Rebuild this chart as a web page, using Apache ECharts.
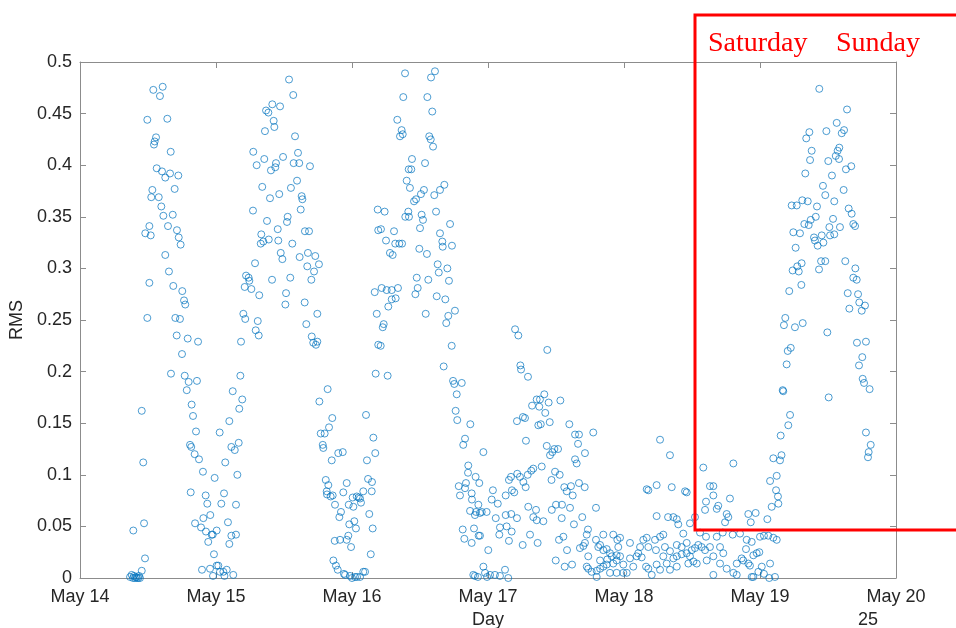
<!DOCTYPE html>
<html><head><meta charset="utf-8">
<script src="https://cdn.jsdelivr.net/npm/echarts@6/dist/echarts.min.js"></script>
<style>html,body{margin:0;padding:0;background:#fff}#c{width:956px;height:628px}</style>
</head><body><div id="c"></div><script>
// x values: days elapsed since May 14 00:00 ; y values: RMS
const xTickLabels = ['May 14','May 15','May 16','May 17','May 18','May 19','May 20'];
const yTicks = [0,0.05,0.1,0.15,0.2,0.25,0.3,0.35,0.4,0.45,0.5];

const dayMay14 = [[0.368,0.001],[0.380,0.003],[0.390,0.000],[0.392,0.046],[0.397,0.002],[0.404,0.000],[0.412,0.001],[0.419,0.000],[0.429,0.000],[0.434,0.002],[0.441,0.000],[0.454,0.007],[0.454,0.162],[0.465,0.112],[0.471,0.053],[0.478,0.019],[0.480,0.334],[0.495,0.444],[0.495,0.252],[0.510,0.341],[0.510,0.286],[0.520,0.332],[0.524,0.369],[0.532,0.376],[0.539,0.473],[0.544,0.420],[0.549,0.423],[0.559,0.427],[0.564,0.397],[0.579,0.369],[0.588,0.467],[0.598,0.360],[0.603,0.394],[0.608,0.476],[0.613,0.351],[0.627,0.388],[0.627,0.313],[0.642,0.445],[0.647,0.341],[0.654,0.297],[0.662,0.392],[0.667,0.413],[0.669,0.198],[0.682,0.352],[0.686,0.283],[0.696,0.377],[0.701,0.252],[0.711,0.235],[0.713,0.337],[0.723,0.390],[0.726,0.330],[0.735,0.251],[0.740,0.323],[0.750,0.217],[0.752,0.278],[0.765,0.269],[0.770,0.196],[0.774,0.265],[0.785,0.182],[0.792,0.232],[0.799,0.190],[0.809,0.129],[0.814,0.083],[0.818,0.127],[0.821,0.168],[0.831,0.157],[0.843,0.120],[0.846,0.053],[0.853,0.142],[0.860,0.191],[0.868,0.229],[0.875,0.115],[0.890,0.049],[0.897,0.008],[0.904,0.103],[0.907,0.058],[0.924,0.080],[0.926,0.045],[0.936,0.072],[0.943,0.035],[0.956,0.009],[0.958,0.061],[0.968,0.042],[0.976,0.042],[0.978,0.002],[0.985,0.023],[0.990,0.097]];

const dayMay15 = [[1.005,0.046],[1.005,0.012],[1.017,0.012],[1.027,0.141],[1.029,0.006],[1.039,0.072],[1.054,0.006],[1.059,0.082],[1.062,0.002],[1.068,0.112],[1.079,0.008],[1.088,0.054],[1.098,0.152],[1.098,0.033],[1.113,0.127],[1.113,0.041],[1.123,0.181],[1.127,0.003],[1.138,0.124],[1.147,0.071],[1.147,0.042],[1.157,0.100],[1.167,0.131],[1.171,0.164],[1.179,0.196],[1.184,0.229],[1.193,0.173],[1.201,0.256],[1.211,0.282],[1.215,0.251],[1.221,0.293],[1.240,0.291],[1.245,0.288],[1.260,0.280],[1.272,0.356],[1.274,0.413],[1.287,0.305],[1.292,0.240],[1.299,0.400],[1.307,0.249],[1.314,0.235],[1.318,0.274],[1.329,0.324],[1.333,0.333],[1.340,0.379],[1.348,0.326],[1.355,0.406],[1.360,0.433],[1.368,0.453],[1.375,0.346],[1.385,0.451],[1.388,0.328],[1.397,0.368],[1.404,0.395],[1.412,0.289],[1.414,0.459],[1.424,0.443],[1.429,0.437],[1.436,0.398],[1.441,0.402],[1.454,0.338],[1.458,0.327],[1.465,0.372],[1.471,0.457],[1.476,0.315],[1.488,0.309],[1.493,0.408],[1.510,0.265],[1.515,0.276],[1.522,0.345],[1.527,0.350],[1.537,0.483],[1.546,0.291],[1.551,0.378],[1.561,0.324],[1.568,0.468],[1.571,0.402],[1.581,0.428],[1.596,0.385],[1.603,0.412],[1.612,0.402],[1.615,0.311],[1.623,0.357],[1.630,0.370],[1.635,0.367],[1.652,0.267],[1.654,0.336],[1.664,0.246],[1.671,0.302],[1.676,0.315],[1.684,0.336],[1.691,0.399],[1.701,0.289],[1.704,0.234],[1.715,0.228],[1.721,0.297],[1.730,0.312],[1.735,0.226],[1.745,0.229],[1.745,0.256],[1.757,0.304],[1.760,0.171],[1.770,0.140],[1.785,0.129],[1.789,0.126],[1.799,0.140],[1.807,0.095],[1.814,0.084],[1.816,0.081],[1.821,0.183],[1.826,0.090],[1.831,0.146],[1.843,0.079],[1.851,0.114],[1.855,0.155],[1.858,0.080],[1.863,0.017],[1.873,0.036],[1.875,0.071],[1.882,0.012],[1.895,0.008],[1.899,0.121],[1.907,0.059],[1.912,0.037],[1.919,0.064],[1.932,0.122],[1.936,0.083],[1.941,0.004],[1.949,0.003],[1.961,0.037],[1.961,0.092],[1.973,0.041],[1.976,0.071],[1.980,0.052],[1.985,0.002],[1.993,0.030]];

const dayMay16 = [[2.000,0.000],[2.005,0.078],[2.010,0.069],[2.017,0.055],[2.022,0.001],[2.029,0.048],[2.035,0.079],[2.037,0.001],[2.049,0.078],[2.059,0.001],[2.059,0.077],[2.066,0.073],[2.083,0.084],[2.083,0.006],[2.096,0.006],[2.103,0.158],[2.110,0.114],[2.118,0.096],[2.127,0.062],[2.138,0.023],[2.145,0.084],[2.147,0.093],[2.152,0.048],[2.157,0.136],[2.167,0.277],[2.171,0.121],[2.174,0.198],[2.182,0.256],[2.189,0.357],[2.193,0.337],[2.193,0.226],[2.211,0.225],[2.213,0.338],[2.218,0.281],[2.226,0.243],[2.233,0.246],[2.240,0.355],[2.250,0.327],[2.255,0.279],[2.262,0.196],[2.267,0.263],[2.279,0.315],[2.292,0.279],[2.292,0.270],[2.299,0.313],[2.309,0.336],[2.318,0.324],[2.321,0.271],[2.333,0.444],[2.338,0.281],[2.348,0.324],[2.353,0.428],[2.365,0.434],[2.368,0.324],[2.373,0.430],[2.377,0.466],[2.390,0.489],[2.392,0.350],[2.402,0.385],[2.414,0.355],[2.417,0.396],[2.419,0.350],[2.426,0.378],[2.436,0.396],[2.441,0.406],[2.456,0.365],[2.466,0.275],[2.471,0.367],[2.476,0.291],[2.483,0.281],[2.495,0.319],[2.500,0.339],[2.507,0.372],[2.512,0.352],[2.522,0.347],[2.529,0.376],[2.537,0.402],[2.542,0.256],[2.551,0.314],[2.554,0.466],[2.561,0.289],[2.568,0.428],[2.579,0.425],[2.581,0.485],[2.590,0.452],[2.596,0.418],[2.605,0.371],[2.610,0.491],[2.618,0.355],[2.623,0.273],[2.630,0.304],[2.638,0.296],[2.647,0.376],[2.647,0.334],[2.664,0.326],[2.667,0.321],[2.674,0.205],[2.679,0.381],[2.686,0.270],[2.693,0.247],[2.701,0.300],[2.708,0.254],[2.713,0.288],[2.721,0.343],[2.733,0.225],[2.735,0.322],[2.743,0.191],[2.752,0.188],[2.757,0.259],[2.762,0.162],[2.770,0.178],[2.774,0.153],[2.785,0.089],[2.794,0.080],[2.807,0.189],[2.814,0.047],[2.818,0.129],[2.826,0.038],[2.831,0.135],[2.831,0.087],[2.838,0.092],[2.853,0.102],[2.855,0.109],[2.868,0.065],[2.870,0.149],[2.880,0.082],[2.880,0.034],[2.882,0.076],[2.892,0.003],[2.897,0.048],[2.904,0.061],[2.904,0.002],[2.909,0.098],[2.912,0.064],[2.926,0.001],[2.929,0.071],[2.931,0.041],[2.936,0.092],[2.941,0.063],[2.941,0.041],[2.954,0.064],[2.966,0.122],[2.966,0.011],[2.978,0.005],[2.990,0.064],[2.993,0.001]];

const dayMay17 = [[3.002,0.027],[3.015,0.003],[3.027,0.076],[3.036,0.085],[3.051,0.003],[3.057,0.058],[3.072,0.072],[3.083,0.042],[3.088,0.002],[3.088,0.049],[3.125,0.008],[3.130,0.080],[3.130,0.061],[3.137,0.050],[3.149,0.000],[3.154,0.095],[3.154,0.036],[3.169,0.098],[3.171,0.062],[3.174,0.045],[3.176,0.085],[3.193,0.083],[3.199,0.241],[3.213,0.058],[3.213,0.152],[3.215,0.101],[3.223,0.235],[3.235,0.098],[3.238,0.206],[3.243,0.202],[3.255,0.032],[3.257,0.156],[3.260,0.093],[3.272,0.155],[3.277,0.088],[3.279,0.133],[3.292,0.100],[3.294,0.195],[3.296,0.069],[3.309,0.042],[3.318,0.104],[3.324,0.167],[3.333,0.106],[3.333,0.059],[3.353,0.066],[3.358,0.173],[3.358,0.056],[3.365,0.034],[3.370,0.148],[3.377,0.166],[3.382,0.173],[3.388,0.149],[3.395,0.108],[3.407,0.055],[3.414,0.178],[3.421,0.160],[3.432,0.128],[3.436,0.221],[3.446,0.170],[3.454,0.151],[3.456,0.119],[3.467,0.095],[3.469,0.066],[3.473,0.122],[3.488,0.125],[3.493,0.103],[3.498,0.017],[3.500,0.071],[3.515,0.125],[3.522,0.037],[3.527,0.100],[3.532,0.172],[3.542,0.058],[3.544,0.071],[3.554,0.040],[3.561,0.088],[3.564,0.011],[3.579,0.084],[3.581,0.027],[3.598,0.149],[3.603,0.068],[3.610,0.089],[3.618,0.013],[3.623,0.080],[3.632,0.052],[3.640,0.139],[3.640,0.115],[3.652,0.111],[3.662,0.130],[3.669,0.139],[3.669,0.092],[3.676,0.029],[3.693,0.059],[3.701,0.031],[3.711,0.088],[3.713,0.121],[3.713,0.034],[3.726,0.042],[3.726,0.011],[3.735,0.047],[3.737,0.021],[3.737,0.009],[3.762,0.006],[3.774,0.141],[3.794,0.068],[3.794,0.037],[3.799,0.007],[3.799,0.001],[3.811,0.030],[3.824,0.032],[3.824,0.017],[3.824,0.009],[3.848,0.042],[3.848,0.027],[3.848,0.011],[3.873,0.013],[3.873,0.028],[3.877,0.018],[3.897,0.024],[3.897,0.005],[3.910,0.021],[3.921,0.042],[3.921,0.014],[3.946,0.022],[3.946,0.017],[3.946,0.005],[3.951,0.037],[3.958,0.030],[3.971,0.039],[3.971,0.021],[3.995,0.013],[3.995,0.005]];

const dayMay18 = [[4.020,0.005],[4.044,0.034],[4.044,0.019],[4.068,0.011],[4.093,0.021],[4.105,0.024],[4.118,0.030],[4.130,0.020],[4.142,0.037],[4.162,0.011],[4.167,0.086],[4.167,0.039],[4.179,0.085],[4.179,0.030],[4.179,0.009],[4.204,0.003],[4.228,0.037],[4.235,0.027],[4.240,0.090],[4.240,0.060],[4.240,0.013],[4.265,0.134],[4.265,0.040],[4.265,0.008],[4.289,0.042],[4.289,0.021],[4.301,0.030],[4.314,0.014],[4.324,0.059],[4.338,0.119],[4.338,0.026],[4.338,0.008],[4.351,0.088],[4.363,0.059],[4.363,0.019],[4.388,0.057],[4.388,0.032],[4.388,0.021],[4.388,0.011],[4.399,0.052],[4.424,0.030],[4.424,0.023],[4.436,0.043],[4.449,0.084],[4.461,0.083],[4.461,0.034],[4.461,0.024],[4.473,0.014],[4.485,0.053],[4.485,0.021],[4.498,0.027],[4.510,0.016],[4.522,0.059],[4.522,0.029],[4.535,0.014],[4.546,0.032],[4.559,0.044],[4.571,0.030],[4.583,0.107],[4.596,0.066],[4.596,0.027],[4.603,0.074],[4.603,0.040],[4.608,0.017],[4.632,0.089],[4.632,0.030],[4.657,0.089],[4.657,0.080],[4.657,0.021],[4.657,0.003],[4.682,0.067],[4.682,0.040],[4.693,0.070],[4.706,0.030],[4.706,0.014],[4.726,0.044],[4.730,0.024],[4.743,0.054],[4.755,0.062],[4.755,0.009],[4.767,0.059],[4.779,0.077],[4.799,0.042],[4.804,0.111],[4.804,0.005],[4.829,0.014],[4.829,0.003],[4.853,0.043],[4.865,0.019],[4.877,0.017],[4.897,0.028],[4.902,0.037],[4.914,0.062],[4.914,0.014],[4.926,0.012],[4.932,0.054],[4.939,0.035],[4.939,0.001],[4.951,0.022],[4.951,0.001],[4.968,0.063],[4.976,0.024],[4.988,0.006],[4.995,0.025]];

const dayMay19 = [[5.000,0.040],[5.013,0.011],[5.029,0.041],[5.029,0.004],[5.054,0.057],[5.061,0.041],[5.068,0.000],[5.074,0.014],[5.074,0.094],[5.086,0.069],[5.098,0.039],[5.098,0.116],[5.110,0.001],[5.118,0.085],[5.123,0.099],[5.123,0.037],[5.132,0.079],[5.135,0.072],[5.147,0.114],[5.152,0.138],[5.158,0.119],[5.167,0.182],[5.171,0.181],[5.176,0.245],[5.186,0.252],[5.196,0.207],[5.204,0.220],[5.208,0.148],[5.215,0.278],[5.221,0.158],[5.226,0.223],[5.233,0.361],[5.240,0.298],[5.245,0.335],[5.257,0.243],[5.262,0.320],[5.270,0.361],[5.274,0.302],[5.285,0.297],[5.294,0.334],[5.304,0.284],[5.306,0.305],[5.311,0.366],[5.314,0.247],[5.326,0.343],[5.333,0.392],[5.340,0.426],[5.351,0.365],[5.358,0.342],[5.363,0.432],[5.368,0.405],[5.373,0.347],[5.380,0.414],[5.397,0.330],[5.404,0.327],[5.410,0.350],[5.419,0.360],[5.424,0.322],[5.434,0.299],[5.436,0.474],[5.449,0.307],[5.454,0.332],[5.463,0.380],[5.466,0.325],[5.480,0.307],[5.480,0.371],[5.488,0.433],[5.495,0.238],[5.502,0.404],[5.505,0.175],[5.510,0.340],[5.515,0.332],[5.529,0.390],[5.537,0.348],[5.546,0.365],[5.546,0.333],[5.557,0.409],[5.564,0.441],[5.571,0.414],[5.581,0.406],[5.583,0.417],[5.588,0.340],[5.601,0.431],[5.615,0.376],[5.618,0.434],[5.627,0.307],[5.632,0.396],[5.640,0.454],[5.645,0.276],[5.652,0.358],[5.657,0.261],[5.671,0.399],[5.674,0.353],[5.686,0.343],[5.686,0.291],[5.699,0.341],[5.701,0.300],[5.711,0.289],[5.713,0.228],[5.721,0.275],[5.728,0.206],[5.730,0.267],[5.748,0.259],[5.752,0.214],[5.755,0.193],[5.765,0.189],[5.772,0.264],[5.779,0.229],[5.779,0.141],[5.794,0.117],[5.799,0.122],[5.806,0.183],[5.814,0.129]];

const allPoints = [].concat(dayMay14, dayMay15, dayMay16, dayMay17, dayMay18, dayMay19);

const TXT = '#262626';
const AX = '#8c8c8c';
const FONT = '"Liberation Sans", Arial, sans-serif';

const chart = echarts.init(document.getElementById('c'), null, {renderer: 'canvas'});
const xBase = {
  type: 'value', min: 0, max: xTickLabels.length - 1, interval: 1,
  splitLine: {show: false},
  axisLine: {show: true, onZero: false, lineStyle: {color: AX, width: 1}},
  axisTick: {show: true, inside: true, length: 6, lineStyle: {color: AX}}
};
const yBase = {
  type: 'value', min: yTicks[0], max: yTicks[yTicks.length - 1], interval: yTicks[1] - yTicks[0],
  splitLine: {show: false},
  axisLine: {show: true, onZero: false, lineStyle: {color: AX, width: 1}},
  axisTick: {show: true, inside: true, length: 6, lineStyle: {color: AX}}
};
chart.setOption({
  animation: false,
  backgroundColor: '#ffffff',
  grid: {left: 80, right: 60, top: 62, bottom: 50, containLabel: false, outerBoundsMode: 'none'},
  xAxis: [
    Object.assign({}, xBase, {
      position: 'bottom',
      name: 'Day', nameLocation: 'middle', nameGap: 32,
      nameTextStyle: {color: TXT, fontSize: 18, fontFamily: FONT},
      axisLabel: {show: true, margin: 10, color: TXT, fontSize: 18, fontFamily: FONT,
        showMinLabel: true, showMaxLabel: true,
        formatter: v => xTickLabels[Math.round(v)] || ''}
    }),
    Object.assign({}, xBase, {position: 'top', axisLabel: {show: false}})
  ],
  yAxis: [
    Object.assign({}, yBase, {
      position: 'left',
      name: 'RMS', nameLocation: 'middle', nameGap: 48, nameRotate: 90,
      nameTextStyle: {color: TXT, fontSize: 18, fontFamily: FONT},
      axisLabel: {show: true, margin: 8, color: TXT, fontSize: 18, fontFamily: FONT,
        formatter: v => String(+v.toFixed(2))}
    }),
    Object.assign({}, yBase, {position: 'right', axisLabel: {show: false}})
  ],
  series: [{
    type: 'scatter',
    xAxisIndex: 0, yAxisIndex: 0,
    data: allPoints,
    symbol: 'circle',
    symbolSize: 7,
    itemStyle: {color: 'rgba(255,255,255,0)', borderColor: '#0072BD', borderWidth: 1, opacity: 0.7},
    emphasis: {disabled: true}
  }],
  graphic: [
    {type: 'rect', z: 100, shape: {x: 695, y: 15, width: 320, height: 515},
     style: {fill: null, stroke: '#ff0000', lineWidth: 3}},
    {type: 'text', z: 100, x: 708, y: 44,
     style: {text: 'Saturday', fill: '#ff0000', font: '28px "Liberation Serif", "Times New Roman", serif', verticalAlign: 'middle', align: 'left'}},
    {type: 'text', z: 100, x: 836, y: 44,
     style: {text: 'Sunday', fill: '#ff0000', font: '28px "Liberation Serif", "Times New Roman", serif', verticalAlign: 'middle', align: 'left'}},
    {type: 'text', z: 100, x: 868, y: 620,
     style: {text: '25', fill: TXT, font: '18px "Liberation Sans", Arial, sans-serif', verticalAlign: 'middle', align: 'center'}}
  ]
});
</script></body></html>
